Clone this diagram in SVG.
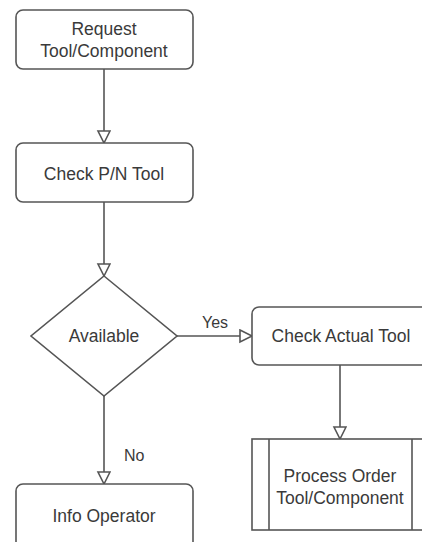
<svg xmlns="http://www.w3.org/2000/svg" width="422" height="542" viewBox="0 0 422 542">
<style>
.box{fill:#fff;stroke:#555;stroke-width:1.6}
.t{font-family:"Liberation Sans",Arial,sans-serif;font-size:17.5px;fill:#3a3a3a;text-anchor:middle}
.lbl{font-family:"Liberation Sans",Arial,sans-serif;font-size:16px;fill:#3a3a3a}
.c{fill:none;stroke:#555;stroke-width:1.6}
</style>
<defs>
<marker id="arr" markerUnits="userSpaceOnUse" markerWidth="16" markerHeight="16" refX="13" refY="7" orient="auto" viewBox="0 0 16 16">
<path d="M1,1 L13,7 L1,13 Z" fill="#fff" stroke="#555" stroke-width="1.6"/>
</marker>
</defs>
<rect width="422" height="542" fill="#fff"/>
<g id="connectors">
<path class="c" d="M104,69 V143" marker-end="url(#arr)"/>
<path class="c" d="M104,202 V276" marker-end="url(#arr)"/>
<path class="c" d="M104,396 V484" marker-end="url(#arr)"/>
<path class="c" d="M177,336 H252" marker-end="url(#arr)"/>
<path class="c" d="M340,365 V439" marker-end="url(#arr)"/>
<text class="lbl" x="202" y="328">Yes</text>
<text class="lbl" x="124" y="461">No</text>
</g>
<g id="request">
<rect class="box" x="16" y="10" width="177" height="59" rx="7"/>
<text class="t" x="104" y="35">Request</text>
<text class="t" x="104" y="57">Tool/Component</text>
</g>
<g id="checkpn">
<rect class="box" x="16" y="143" width="177" height="59" rx="7"/>
<text class="t" x="104" y="180">Check P/N Tool</text>
</g>
<g id="available">
<path class="box" d="M104,276 L177,336 L104,396 L31,336 Z"/>
<text class="t" x="104" y="342">Available</text>
</g>
<g id="checkactual">
<rect class="box" x="252" y="307" width="177" height="58" rx="7"/>
<text class="t" x="341" y="342">Check Actual Tool</text>
</g>
<g id="process">
<rect class="box" x="252" y="439" width="177" height="91"/>
<line class="c" x1="269" y1="439" x2="269" y2="530"/>
<line class="c" x1="412" y1="439" x2="412" y2="530"/>
<text class="t" x="340" y="482">Process Order</text>
<text class="t" x="340" y="504">Tool/Component</text>
</g>
<g id="info">
<rect class="box" x="16" y="484" width="177" height="70" rx="7"/>
<text class="t" x="104" y="522">Info Operator</text>
</g>
</svg>
